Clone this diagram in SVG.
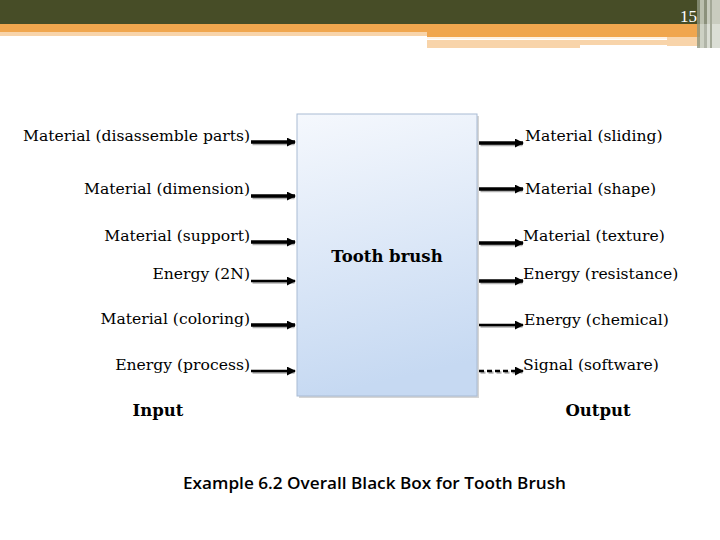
<svg xmlns="http://www.w3.org/2000/svg" width="720" height="540" viewBox="0 0 720 540">
<defs>
<style>
.lbl{font-family:"DejaVu Serif","Liberation Serif",serif;font-size:15.6px;fill:#000}
.hd{font-family:"DejaVu Serif","Liberation Serif",serif;font-size:16.5px;font-weight:bold;fill:#000}
.cap{font-family:"Open Sans","Noto Sans","Liberation Sans",sans-serif;font-size:15.5px;font-weight:600;fill:#000}
.ar{fill:none;stroke:#000;stroke-width:3.5}
.ar2{fill:none;stroke:#000;stroke-width:2.5}
.dash{stroke-dasharray:5 3}
</style>
<marker id="ah" viewBox="0 0 10 10" refX="9" refY="5" markerWidth="9" markerHeight="9" markerUnits="userSpaceOnUse" orient="auto">
<path d="M0,0 L10,5 L0,10 z" fill="#000"/>
</marker>
<linearGradient id="bx" x1="0" y1="0" x2="0.15" y2="1">
<stop offset="0" stop-color="#F5F8FD"/>
<stop offset="1" stop-color="#C6D9F2"/>
</linearGradient>
</defs>
<rect width="720" height="540" fill="#fff"/>
<g id="header">
<rect x="0" y="0" width="720" height="24" fill="#474D27"/>
<rect x="0" y="24" width="700" height="8" fill="#F0A64E"/>
<rect x="427" y="24" width="273" height="13" fill="#F0A64E"/>
<rect x="0" y="32" width="427" height="4" fill="#F8D4AA"/>
<rect x="427" y="37" width="240" height="2" fill="#FFF3E6"/>
<rect x="427" y="40" width="240" height="5" fill="#F8D4AA"/>
<rect x="427" y="45" width="153" height="3" fill="#F8D4AA"/>
<rect x="667" y="37" width="33" height="9" fill="#F8D4AA"/>
<rect x="697" y="0" width="3" height="48" fill="#8E9680" opacity="0.8"/>
<rect x="700" y="0" width="4" height="48" fill="#C8CCBE" opacity="0.9"/>
<rect x="704" y="0" width="3" height="48" fill="#9DA392" opacity="0.8"/>
<rect x="707" y="0" width="13" height="48" fill="#D7DAD0" opacity="0.9"/>
<rect x="710" y="0" width="2" height="48" fill="#A3A897"/>
<text x="697" y="22" text-anchor="end" font-family="Liberation Serif, serif" font-size="17" fill="#fff">15</text>
</g>
<g id="box">
<rect x="299" y="116" width="180" height="282" fill="#888" opacity="0.35"/>
<rect x="297" y="114" width="180" height="282" fill="url(#bx)" stroke="#A9BBD4" stroke-width="1"/>
<text x="387" y="262" text-anchor="middle" class="hd">Tooth brush</text>
</g>
<g id="connectors">
<g transform="translate(1.5,1.5)" opacity="0.3">
<path class="ar" d="M251,142 H293"/><path class="ar" d="M251,196 H293"/><path class="ar" d="M251,242 H293"/>
<path class="ar2" d="M251,281 H293"/><path class="ar" d="M251,325 H293"/><path class="ar2" d="M251,371 H293"/>
<path class="ar" d="M479,143 H521"/><path class="ar" d="M479,189 H521"/><path class="ar" d="M479,243 H521"/>
<path class="ar" d="M479,281 H521"/><path class="ar2" d="M479,325 H521"/><path class="ar2 dash" d="M479,371 H521"/>
</g>
<path class="ar" d="M251,142 H295" marker-end="url(#ah)"/>
<path class="ar" d="M251,196 H295" marker-end="url(#ah)"/>
<path class="ar" d="M251,242 H295" marker-end="url(#ah)"/>
<path class="ar2" d="M251,281 H295" marker-end="url(#ah)"/>
<path class="ar" d="M251,325 H295" marker-end="url(#ah)"/>
<path class="ar2" d="M251,371 H295" marker-end="url(#ah)"/>
<path class="ar" d="M479,143 H523" marker-end="url(#ah)"/>
<path class="ar" d="M479,189 H523" marker-end="url(#ah)"/>
<path class="ar" d="M479,243 H523" marker-end="url(#ah)"/>
<path class="ar" d="M479,281 H523" marker-end="url(#ah)"/>
<path class="ar2" d="M479,325 H523" marker-end="url(#ah)"/>
<path class="ar2 dash" d="M479,371 H523" marker-end="url(#ah)"/>
</g>
<g id="inputs">
<text class="lbl" x="250" y="141" text-anchor="end">Material (disassemble parts)</text>
<text class="lbl" x="250" y="194" text-anchor="end">Material (dimension)</text>
<text class="lbl" x="250" y="241" text-anchor="end">Material (support)</text>
<text class="lbl" x="250" y="279" text-anchor="end">Energy (2N)</text>
<text class="lbl" x="250" y="324" text-anchor="end">Material (coloring)</text>
<text class="lbl" x="250" y="370" text-anchor="end">Energy (process)</text>
<text class="hd" x="158" y="416" text-anchor="middle">Input</text>
</g>
<g id="outputs">
<text class="lbl" x="525" y="141">Material (sliding)</text>
<text class="lbl" x="525" y="194">Material (shape)</text>
<text class="lbl" x="523" y="241">Material (texture)</text>
<text class="lbl" x="523" y="279">Energy (resistance)</text>
<text class="lbl" x="524" y="325">Energy (chemical)</text>
<text class="lbl" x="523" y="370">Signal (software)</text>
<text class="hd" x="598" y="416" text-anchor="middle">Output</text>
</g>
<text class="cap" x="183" y="489" textLength="383" lengthAdjust="spacingAndGlyphs">Example 6.2 Overall Black Box for Tooth Brush</text>
</svg>
